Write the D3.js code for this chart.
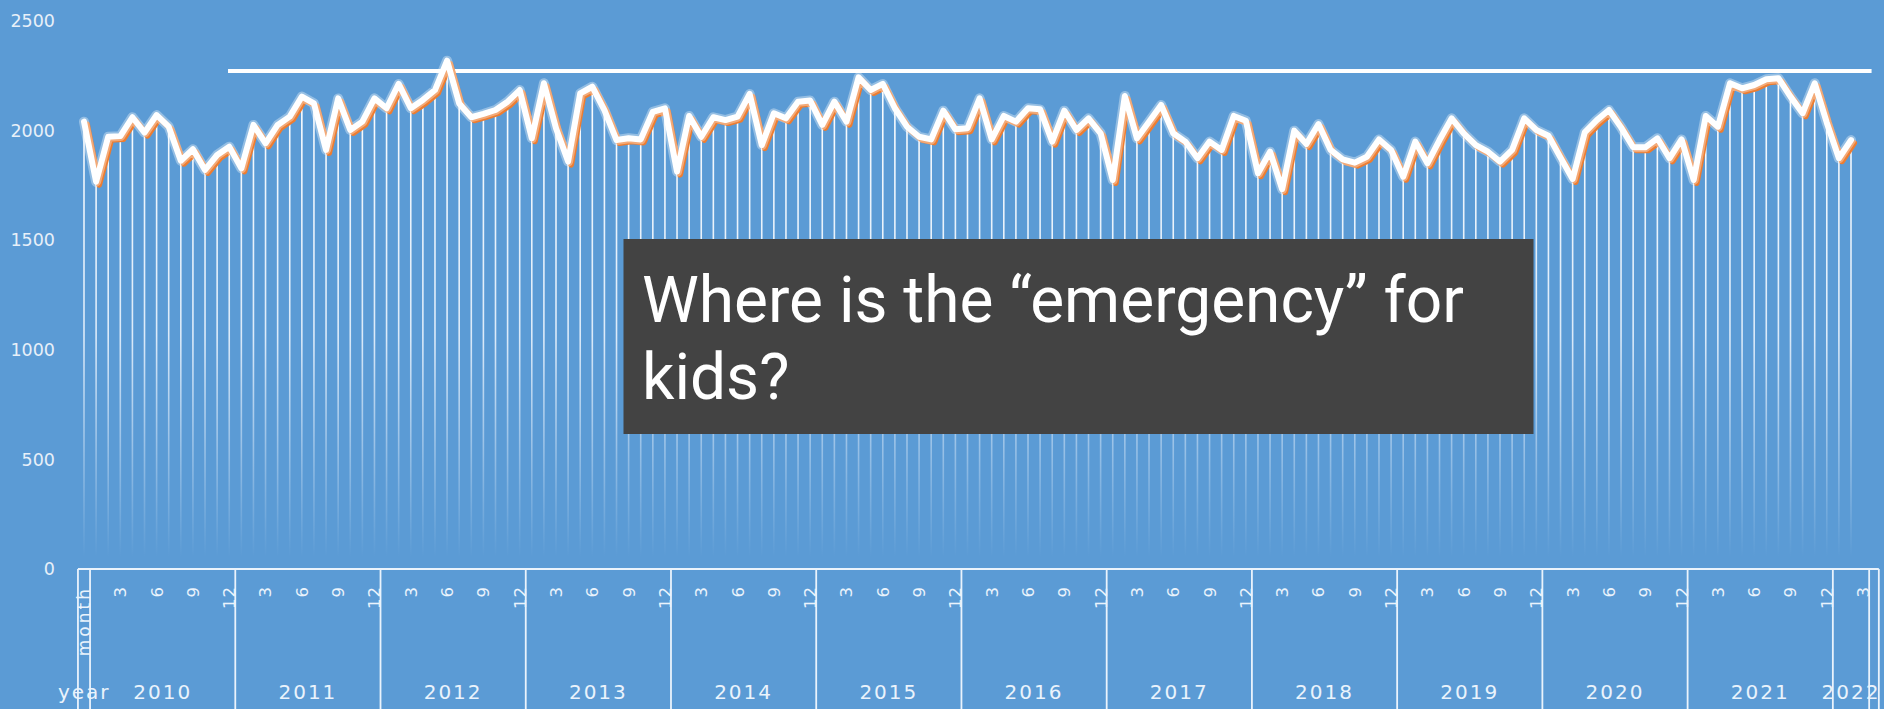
<!DOCTYPE html>
<html><head><meta charset="utf-8">
<script src="https://cdn.jsdelivr.net/npm/d3@7"></script>
<style>html,body{margin:0;padding:0;background:#5b9bd5;overflow:hidden}</style>
</head><body><svg id="c" width="1884" height="709"></svg>
<script>
// ---------- data ----------
const yearLabels = ["2010","2011","2012","2013","2014","2015","2016","2017","2018","2019","2020","2021","2022"];
const monthTickLabels = ["3","6","9","12"];
const yTickValues = [0, 500, 1000, 1500, 2000, 2500];
const headerCategory = ["month"];
const headerValue = [2039];
const v2010 = [1765,1970,1973,2059,1989,2069,2016,1861,1913,1819,1887,1925];
const v2011 = [1826,2024,1940,2024,2062,2153,2122,1910,2145,2001,2039,2145];
const v2012 = [2100,2211,2100,2138,2183,2317,2122,2059,2074,2092,2130,2183];
const v2013 = [1963,2214,2009,1857,2168,2198,2092,1955,1963,1958,2084,2100];
const v2014 = [1811,2065,1970,2059,2046,2062,2165,1932,2077,2054,2130,2135];
const v2015 = [2024,2130,2039,2241,2183,2211,2100,2016,1970,1958,2089,2004];
const v2016 = [2009,2145,1958,2065,2039,2100,2095,1948,2089,2001,2054,1986];
const v2017 = [1773,2156,1963,2039,2115,1986,1948,1872,1948,1910,2065,2043];
const v2018 = [1804,1902,1731,1998,1937,2028,1910,1867,1852,1879,1958,1910];
const v2019 = [1788,1948,1849,1955,2054,1986,1932,1902,1857,1910,2054,2001];
const v2020 = [1975,1875,1778,1990,2046,2092,2013,1922,1922,1963,1872,1958];
const v2021 = [1773,2065,2016,2214,2191,2206,2232,2237,2153,2077,2214,2034];
const v2022 = [1872,1955];
const monthsIn2022 = 3;
const refLineValue = [2270];
const refLineSpan = [11.9, 147.7];
const calloutLines = ["Where is the \u201Cemergency\u201D for", "kids?"];

// ---------- build ----------
const yearly = [v2010,v2011,v2012,v2013,v2014,v2015,v2016,v2017,v2018,v2019,v2020,v2021,v2022];
const values = [].concat(headerValue, ...yearly);
const cats = [{label: headerCategory[0], year: null, month: null}];
yearLabels.forEach((yl, yi) => {
  const n = yi === yearLabels.length - 1 ? monthsIn2022 : 12;
  for (let m = 1; m <= n; m++) cats.push({label: yl + "-" + m, year: yl, month: m});
});

const svg = d3.select("#c");
const W = 1884, H = 709;
svg.append("rect").attr("width", W).attr("height", H).attr("fill", "#5b9bd5");

const x = d3.scaleLinear().domain([0, 146]).range([84, 1851]);
const y = d3.scaleLinear().domain([0, 2500]).range([569, 20.5]);
const axisEnd = 148.3;

// gradient for drop lines
const defs = svg.append("defs");
const grad = defs.append("linearGradient").attr("id", "dropGrad")
  .attr("gradientUnits", "userSpaceOnUse").attr("x1", 0).attr("x2", 0)
  .attr("y1", y(2300)).attr("y2", y(55));
grad.append("stop").attr("offset", 0).attr("stop-color", "#ffffff").attr("stop-opacity", 1);
grad.append("stop").attr("offset", 0.55).attr("stop-color", "#f2f8ff").attr("stop-opacity", 0.85);
grad.append("stop").attr("offset", 1).attr("stop-color", "#e8f2ff").attr("stop-opacity", 0);

// drop lines
svg.append("g").selectAll("line").data(values).join("line")
  .attr("x1", (d, i) => x(i)).attr("x2", (d, i) => x(i))
  .attr("y1", d => y(d)).attr("y2", y(0))
  .attr("stroke", "url(#dropGrad)").attr("stroke-width", 1.6);

// y axis labels
svg.append("g").selectAll("text").data(yTickValues).join("text")
  .attr("x", 55).attr("y", d => y(d)).attr("dy", "0.36em")
  .attr("text-anchor", "end")
  .attr("font-family", "DejaVu Sans").attr("font-size", 17.5)
  .attr("fill", "#e8f0f9")
  .text(d => d);

// reference line
svg.append("line")
  .attr("x1", x(refLineSpan[0])).attr("x2", x(refLineSpan[1]))
  .attr("y1", y(refLineValue[0])).attr("y2", y(refLineValue[0]))
  .attr("stroke", "#ffffff").attr("stroke-width", 4);

// main line: orange shadow + white line
const line = d3.line().x((d, i) => x(i)).y(d => y(d));
svg.append("path").datum(values).attr("d", line)
  .attr("transform", "translate(3,3)")
  .attr("fill", "none").attr("stroke", "#ed7d31").attr("stroke-width", 6)
  .attr("stroke-linejoin", "round").attr("stroke-linecap", "round");
svg.append("path").datum(values).attr("d", line)
  .attr("fill", "none").attr("stroke", "#ffffff").attr("stroke-opacity", 0.35).attr("stroke-width", 10)
  .attr("stroke-linejoin", "round").attr("stroke-linecap", "round");
svg.append("path").datum(values).attr("d", line)
  .attr("fill", "none").attr("stroke", "#ffffff").attr("stroke-width", 6)
  .attr("stroke-linejoin", "round").attr("stroke-linecap", "round");

// ---------- category axis ----------
const ax = svg.append("g").attr("stroke", "#eaf3fc").attr("stroke-width", 1.8);
const y0 = y(0);
ax.append("line").attr("x1", x(-0.5)).attr("x2", x(axisEnd)).attr("y1", y0).attr("y2", y0);
const seps = [-0.5, 0.5];
cats.forEach((c, i) => { if (c.month === 1 && c.year !== "2010") seps.push(i - 0.5); });
seps.push(cats.length - 0.5, axisEnd);
ax.selectAll("line.sep").data(seps).join("line").attr("class", "sep")
  .attr("x1", d => x(d)).attr("x2", d => x(d)).attr("y1", y0).attr("y2", H);

const labelColor = "#eaf3fc";
const monthCats = cats.map((c, i) => ({c, i})).filter(o => o.c.month && monthTickLabels.includes(String(o.c.month)));
svg.append("g").selectAll("text").data(monthCats).join("text")
  .attr("transform", d => `translate(${x(d.i)},586) rotate(-90)`)
  .attr("dy", "0.36em").attr("text-anchor", "end")
  .attr("font-family", "DejaVu Sans").attr("font-size", 16.5).attr("letter-spacing", 1)
  .attr("fill", labelColor)
  .text(d => String(d.c.month));
svg.append("text")
  .attr("transform", `translate(${x(0)},586) rotate(-90)`)
  .attr("dy", "0.36em").attr("text-anchor", "end")
  .attr("font-family", "DejaVu Sans").attr("font-size", 17).attr("letter-spacing", 3)
  .attr("fill", labelColor).text(headerCategory[0]);
const yearGroups = yearLabels.map(yl => {
  const idx = cats.map((c, i) => c.year === yl ? i : -1).filter(i => i >= 0);
  return {yl, a: idx[0] - 0.5, b: idx[idx.length - 1] + 0.5};
});
svg.append("g").selectAll("text").data(yearGroups).join("text")
  .attr("x", d => (x(d.a) + x(d.b)) / 2).attr("y", 699)
  .attr("text-anchor", "middle")
  .attr("font-family", "DejaVu Sans").attr("font-size", 20).attr("letter-spacing", 2)
  .attr("fill", labelColor).text(d => d.yl);
svg.append("text").attr("x", x(-0.5) - 20).attr("y", 699)
  .attr("font-family", "DejaVu Sans").attr("font-size", 20).attr("letter-spacing", 2)
  .attr("fill", labelColor).text("year");

// ---------- callout ----------
svg.append("rect").attr("x", 623.5).attr("y", 239).attr("width", 910).attr("height", 195)
  .attr("fill", "#434343");
svg.append("g").selectAll("text").data(calloutLines).join("text")
  .attr("x", 642).attr("y", (d, i) => 322 + i * 77)
  .attr("font-family", "Roboto").attr("font-size", 64).attr("fill", "#ffffff")
  .text(d => d);
</script></body></html>
